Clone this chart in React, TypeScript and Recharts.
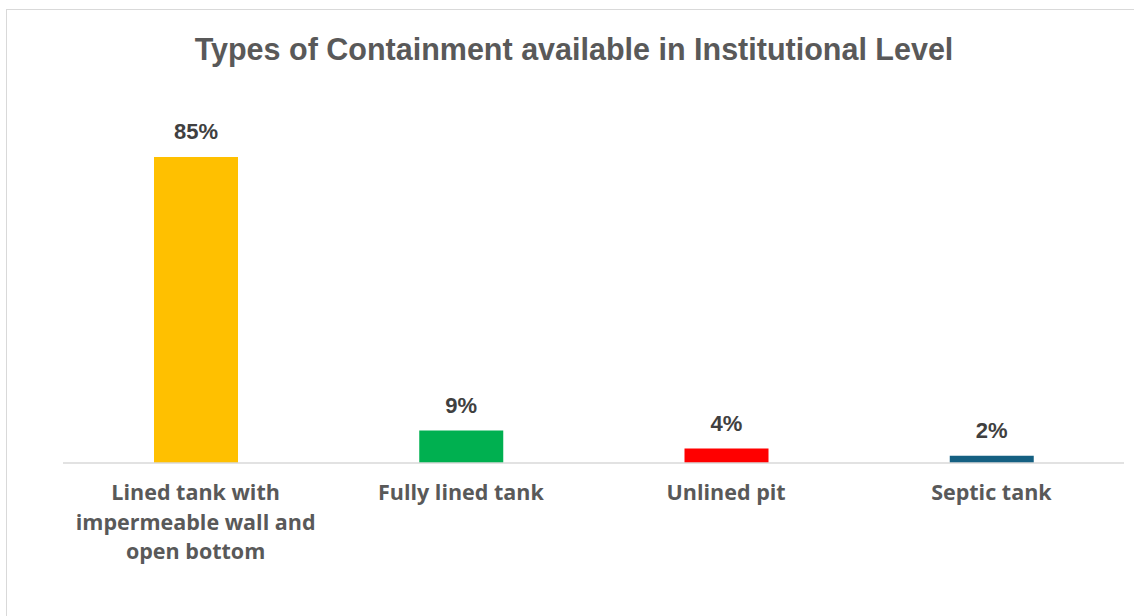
import { BarChart, Bar, XAxis, YAxis, Cell, LabelList } from 'recharts';

const categories = ['Lined tank with\nimpermeable wall and\nopen bottom', 'Fully lined tank', 'Unlined pit', 'Septic tank'];
const shares = [85, 9, 4, 2];
const barColors = ['#FFC000', '#00B050', '#FF0000', '#156082'];
const chartTitle = 'Types of Containment available in Institutional Level';

const data = categories.map((name, i) => ({ name, value: shares[i] }));

const TITLE_FONT = '"Liberation Sans", Arial, sans-serif';
const TICK_FONT = '"Open Sans", sans-serif';

// multi-line category label under each bar
function CategoryTick(props: any) {
  const { x, y, payload } = props;
  const lines = String(payload.value).split('\n');
  return (
    <g transform={`translate(${x},${y})`}>
      {lines.map((line: string, i: number) => (
        <text
          key={i}
          x={0}
          y={35 + i * 29.5}
          textAnchor="middle"
          fill="#595959"
          fontSize={21.5}
          fontWeight={700}
          fontFamily={TICK_FONT}
        >
          {line}
        </text>
      ))}
    </g>
  );
}

export default function App() {
  return (
    <div style={{ position: 'absolute', left: 0, top: 0, width: 1134, height: 616, background: '#fff', overflow: 'hidden' }}>
      <div
        style={{
          position: 'absolute',
          left: 6,
          top: 9,
          width: 1140,
          height: 620,
          border: '1.5px solid #d9d9d9',
          boxSizing: 'border-box',
        }}
      />
      <svg width={1134} height={100} style={{ position: 'absolute', left: 0, top: 0 }}>
        <text
          x={574}
          y={60}
          textAnchor="middle"
          fill="#595959"
          fontSize={30.5}
          fontWeight={700}
          fontFamily={TITLE_FONT}
        >
          {chartTitle}
        </text>
      </svg>
      <div style={{ position: 'absolute', left: 0, top: 0 }}>
        <BarChart
          width={1134}
          height={616}
          data={data}
          margin={{ top: 139, right: 10, bottom: 93, left: 63 }}
        >
          <XAxis
            dataKey="name"
            height={60}
            axisLine={{ stroke: '#d9d9d9', strokeWidth: 1.5 }}
            tickLine={false}
            tickSize={0}
            interval={0}
            tick={<CategoryTick />}
          />
          <YAxis hide domain={[0, 90]} width={0} />
          <Bar dataKey="value" barSize={84} isAnimationActive={false}>
            {data.map((d, i) => (
              <Cell key={d.name} fill={barColors[i]} />
            ))}
            <LabelList
              dataKey="value"
              position="top"
              offset={18}
              formatter={(v: any) => `${v}%`}
              fill="#404040"
              fontSize={22}
              fontWeight={700}
              fontFamily={TITLE_FONT}
            />
          </Bar>
        </BarChart>
      </div>
    </div>
  );
}
